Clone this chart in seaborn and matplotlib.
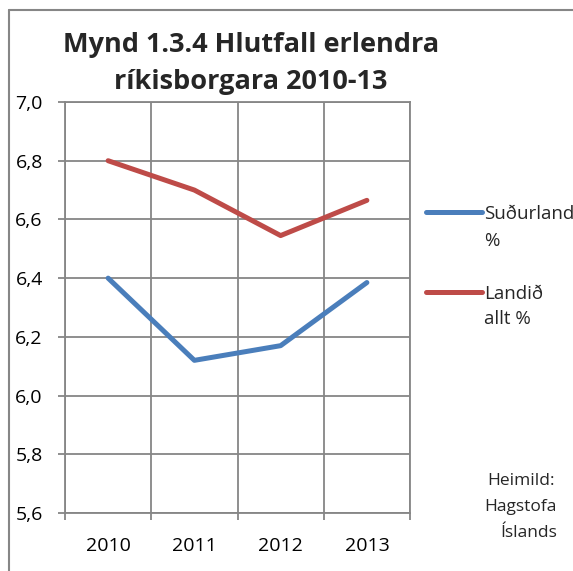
import pandas as pd
import numpy as np
import seaborn as sns
import matplotlib.pyplot as plt
from matplotlib.lines import Line2D

years = ['2010', '2011', '2012', '2013']
sudurland = [6.40, 6.12, 6.17, 6.385]
landid = [6.80, 6.70, 6.545, 6.665]
series_names = ['Suðurland %', 'Landið allt %']
yticks = [5.6, 5.8, 6.0, 6.2, 6.4, 6.6, 6.8, 7.0]

df = pd.DataFrame({
    'year': years * 2,
    'value': sudurland + landid,
    'series': [series_names[0]] * 4 + [series_names[1]] * 4,
})

sns.set_theme(style='white')
plt.rcParams['font.family'] = ['Open Sans', 'DejaVu Sans']

W, H = 573, 571
grid_col = '#868686'
colors = {series_names[0]: '#4A7EBB', series_names[1]: '#BE4B48'}

fig = plt.figure(figsize=(W / 100, H / 100), dpi=100)
ax = fig.add_axes([65 / W, 1 - 513 / H, 345 / W, 411 / H])

df['x'] = df['year'].map({y: i for i, y in enumerate(years)})
sns.lineplot(data=df, x='x', y='value', hue='series', palette=colors,
             linewidth=3.6, ax=ax, legend=False, solid_capstyle='round')

ax.set_xlim(-0.5, 3.5)
ax.set_ylim(5.6, 7.0)
ax.set_yticks(yticks)
ax.set_yticklabels([f'{v:.1f}'.replace('.', ',') for v in yticks])
ax.set_xticks([i for i in range(len(years))])
ax.set_xticklabels(years)
ax.set_xticks([-0.5, 0.5, 1.5, 2.5, 3.5], minor=True)
ax.set_xlabel('')
ax.set_ylabel('')

ax.grid(False)
for v in yticks:
    ax.axhline(v, color=grid_col, lw=1.3, zorder=0)
for v in [-0.5, 0.5, 1.5, 2.5, 3.5]:
    ax.axvline(v, color=grid_col, lw=1.3, zorder=0)
for s in ax.spines.values():
    s.set_color(grid_col)
    s.set_linewidth(1.3)

ax.tick_params(axis='y', which='major', direction='out', length=5, width=1.3,
               color=grid_col, labelsize=14, pad=11, left=True, labelcolor='black')
ax.tick_params(axis='x', which='major', length=0, labelsize=14, pad=17, labelcolor='black')
ax.tick_params(axis='x', which='minor', direction='out', length=5, width=1.3,
               color=grid_col, bottom=True)

fig.text(251 / W, 1 - 52 / H, 'Mynd 1.3.4 Hlutfall erlendra', ha='center', va='baseline',
         fontsize=19.5, fontweight='bold')
fig.text(251 / W, 1 - 89 / H, 'ríkisborgara 2010-13', ha='center', va='baseline',
         fontsize=19.5, fontweight='bold')

# legend drawn manually to mimic the Excel layout
for name, ly in zip(series_names, [212, 292]):
    yf = 1 - ly / H
    fig.add_artist(Line2D([426 / W, 482 / W], [yf, yf], color=colors[name],
                          lw=3.6, solid_capstyle='round'))
fig.text(484 / W, 1 - 219 / H, 'Suðurland', ha='left', va='baseline', fontsize=13.5)
fig.text(484 / W, 1 - 246 / H, '%', ha='left', va='baseline', fontsize=13.5)
fig.text(484 / W, 1 - 299 / H, 'Landið', ha='left', va='baseline', fontsize=13.5)
fig.text(484 / W, 1 - 324 / H, 'allt %', ha='left', va='baseline', fontsize=13.5)

fig.text(555 / W, 1 - 485 / H, 'Heimild:', ha='right', va='baseline', fontsize=12.5)
fig.text(557 / W, 1 - 511 / H, 'Hagstofa', ha='right', va='baseline', fontsize=12.5)
fig.text(557 / W, 1 - 537 / H, 'Íslands', ha='right', va='baseline', fontsize=12.5)

# outer chart border
fig.add_artist(Line2D([9 / W, 9 / W], [0, 1 - 10 / H], color=grid_col, lw=1.5))
fig.add_artist(Line2D([9 / W, 1], [1 - 10 / H, 1 - 10 / H], color=grid_col, lw=1.5))

fig.savefig('out.png', dpi=100, facecolor='white')
